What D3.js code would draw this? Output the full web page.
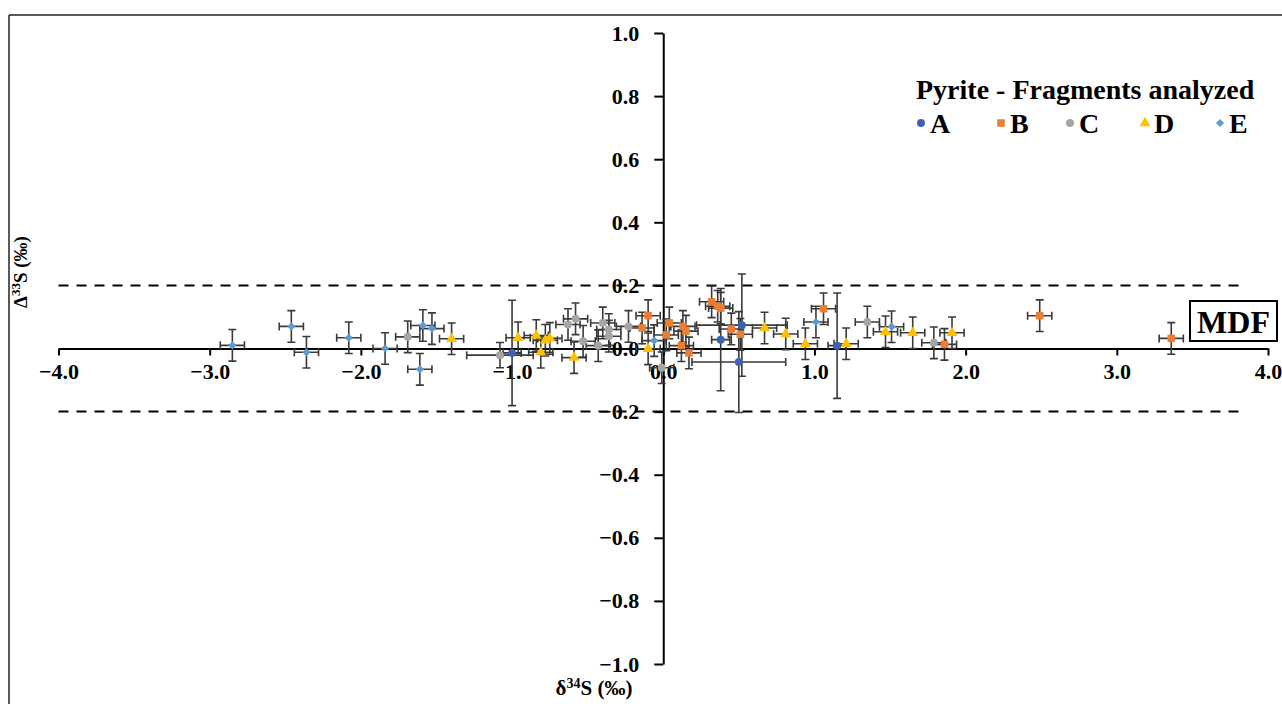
<!DOCTYPE html>
<html>
<head>
<meta charset="utf-8">
<script src="https://cdn.jsdelivr.net/npm/d3@7"></script>
<style>
  html, body { margin: 0; padding: 0; background: #fff; }
  svg { display: block; }
  text { font-family: "Liberation Serif", "Times New Roman", serif; font-weight: bold; fill: #000; }
</style>
</head>
<body>
<svg id="chart" width="1282" height="704"></svg>
<script>
// δ34S (‰) vs Δ33S (‰) for pyrite fragments, with ±1σ error bars
// Each row: [d34S, D33S, xErr, yErr]
const fragmentA = [
  [-1.00, -0.014, 0.06, 0.167],
  [0.38, 0.028, 0.06, 0.162],
  [0.52, 0.074, 0.30, 0.162],
  [0.50, -0.043, 0.31, 0.160],
  [1.15, 0.009, 0.06, 0.167]
];
const fragmentB = [
  [-0.14, 0.065, 0.08, 0.05],
  [-0.10, 0.104, 0.08, 0.05],
  [0.02, 0.043, 0.08, 0.05],
  [0.04, 0.081, 0.08, 0.05],
  [0.12, 0.009, 0.08, 0.05],
  [0.13, 0.070, 0.08, 0.05],
  [0.15, 0.055, 0.08, 0.05],
  [0.17, -0.014, 0.08, 0.05],
  [0.32, 0.148, 0.08, 0.05],
  [0.36, 0.134, 0.08, 0.05],
  [0.38, 0.128, 0.08, 0.05],
  [0.45, 0.062, 0.08, 0.05],
  [0.51, 0.045, 0.08, 0.05],
  [1.06, 0.126, 0.08, 0.05],
  [1.86, 0.013, 0.08, 0.05],
  [2.49, 0.104, 0.08, 0.05],
  [3.36, 0.032, 0.08, 0.05]
];
const fragmentC = [
  [-1.69, 0.037, 0.08, 0.05],
  [-1.08, -0.021, 0.22, 0.04],
  [-0.63, 0.076, 0.08, 0.05],
  [-0.58, 0.094, 0.08, 0.05],
  [-0.53, 0.023, 0.08, 0.05],
  [-0.43, 0.009, 0.08, 0.05],
  [-0.40, 0.081, 0.08, 0.05],
  [-0.36, 0.060, 0.08, 0.05],
  [-0.36, 0.039, 0.08, 0.05],
  [-0.23, 0.070, 0.08, 0.05],
  [-0.01, -0.061, 0.08, 0.05],
  [1.35, 0.084, 0.08, 0.05],
  [1.79, 0.018, 0.08, 0.05]
];
const fragmentD = [
  [-1.40, 0.031, 0.08, 0.05],
  [-0.96, 0.034, 0.08, 0.05],
  [-0.84, 0.041, 0.08, 0.05],
  [-0.78, 0.026, 0.08, 0.05],
  [-0.75, 0.032, 0.08, 0.05],
  [-0.81, -0.012, 0.08, 0.05],
  [-0.59, -0.029, 0.08, 0.05],
  [-0.10, -0.001, 0.08, 0.05],
  [0.67, 0.065, 0.08, 0.05],
  [0.81, 0.046, 0.08, 0.05],
  [0.94, 0.015, 0.08, 0.05],
  [1.21, 0.015, 0.08, 0.05],
  [1.47, 0.053, 0.08, 0.05],
  [1.65, 0.050, 0.08, 0.05],
  [1.91, 0.050, 0.08, 0.05]
];
const fragmentE = [
  [-2.85, 0.010, 0.08, 0.05],
  [-2.46, 0.070, 0.08, 0.05],
  [-2.36, -0.012, 0.08, 0.05],
  [-2.08, 0.034, 0.08, 0.05],
  [-1.84, 0.000, 0.08, 0.05],
  [-1.59, 0.073, 0.08, 0.05],
  [-1.53, 0.063, 0.08, 0.05],
  [-1.61, -0.066, 0.08, 0.05],
  [-0.06, 0.025, 0.08, 0.05],
  [1.01, 0.084, 0.08, 0.05],
  [1.51, 0.069, 0.08, 0.05]
];

const seriesNames = ["A", "B", "C", "D", "E"];
const seriesColors = ["#3f63b4", "#ed7d31", "#a5a5a5", "#ffc000", "#5b9bd5"];
const seriesShapes = ["circle", "square", "circle", "triangle", "diamond"];
const seriesData = [fragmentA, fragmentB, fragmentC, fragmentD, fragmentE];

const xTicks = [-4, -3, -2, -1, 0, 1, 2, 3, 4];
const yTicks = [-1.0, -0.8, -0.6, -0.4, -0.2, 0.0, 0.2, 0.4, 0.6, 0.8, 1.0];
const mdfLimits = [-0.2, 0.2];

const legendTitle = "Pyrite - Fragments analyzed";

const svg = d3.select("#chart");

// outer frame (top and left edges visible)
svg.append("line").attr("x1", 9).attr("x2", 1282).attr("y1", 15).attr("y2", 15)
  .attr("stroke", "#222").attr("stroke-width", 1.5);
svg.append("line").attr("x1", 9).attr("x2", 9).attr("y1", 15).attr("y2", 704)
  .attr("stroke", "#222").attr("stroke-width", 1.5);

const x = d3.scaleLinear().domain([-4, 4]).range([58.5, 1268]);
const y = d3.scaleLinear().domain([-1, 1]).range([664, 33]);

// MDF envelope lines
svg.selectAll("line.mdf").data(mdfLimits).join("line")
  .attr("class", "mdf")
  .attr("x1", x(-4)).attr("x2", x(3.82))
  .attr("y1", d => y(d)).attr("y2", d => y(d))
  .attr("stroke", "#000").attr("stroke-width", 2)
  .attr("stroke-dasharray", "10,8");

// x axis through zero
const xAxis = d3.axisBottom(x).tickValues(xTicks).tickFormat(d3.format(".1f"))
  .tickSizeInner(7).tickSizeOuter(0).tickPadding(8);
const gx = svg.append("g").attr("transform", `translate(0,${y(0)})`).call(xAxis);
gx.select(".domain").attr("stroke", "#000").attr("stroke-width", 2);
gx.selectAll(".tick line").attr("stroke", "#000").attr("stroke-width", 2);
gx.selectAll(".tick text").attr("font-size", 22).attr("fill", "#000")
  .attr("font-family", "'Liberation Serif', serif").attr("font-weight", "bold");

// y axis through zero
const yAxis = d3.axisLeft(y).tickValues(yTicks).tickFormat(d3.format(".1f"))
  .tickSizeInner(9).tickSizeOuter(0).tickPadding(15);
const gy = svg.append("g").attr("transform", `translate(${x(0)},0)`).call(yAxis);
gy.select(".domain").attr("stroke", "#000").attr("stroke-width", 2);
gy.selectAll(".tick line").attr("stroke", "#000").attr("stroke-width", 2);
gy.selectAll(".tick text").attr("font-size", 22).attr("fill", "#000")
  .attr("font-family", "'Liberation Serif', serif").attr("font-weight", "bold");

// error bars
const errColor = "#3a3a3a";
const cap = 4;
const errG = svg.append("g").attr("stroke", errColor).attr("stroke-width", 1.6).attr("fill", "none");
seriesData.forEach(rows => {
  rows.forEach(([dx, dy, ex, ey]) => {
    const cx = x(dx), cy = y(dy);
    const xl = x(dx - ex), xr = x(dx + ex);
    const yt = y(dy + ey), yb = y(dy - ey);
    errG.append("path").attr("d",
      `M${xl},${cy}H${xr}M${xl},${cy - cap}V${cy + cap}M${xr},${cy - cap}V${cy + cap}` +
      `M${cx},${yt}V${yb}M${cx - cap},${yt}H${cx + cap}M${cx - cap},${yb}H${cx + cap}`);
  });
});

// marker shapes; the diamond is a square turned 45°
const symbolFor = {
  circle: { gen: d3.symbol().type(d3.symbolCircle).size(50), rot: 0 },
  square: { gen: d3.symbol().type(d3.symbolSquare).size(56), rot: 0 },
  triangle: { gen: d3.symbol().type(d3.symbolTriangle).size(52), rot: 0 },
  diamond: { gen: d3.symbol().type(d3.symbolSquare).size(34), rot: 45 }
};
seriesData.forEach((rows, i) => {
  const s = symbolFor[seriesShapes[i]];
  svg.append("g").selectAll("path").data(rows).join("path")
    .attr("d", s.gen)
    .attr("transform", d => `translate(${x(d[0])},${y(d[1])}) rotate(${s.rot})`)
    .attr("fill", seriesColors[i]);
});

// MDF label box
const mdf = svg.append("g");
mdf.append("rect").attr("x", 1190).attr("y", 301).attr("width", 87).attr("height", 40)
  .attr("fill", "#fff").attr("stroke", "#000").attr("stroke-width", 2);
mdf.append("text").attr("x", 1233.5).attr("y", 333).attr("text-anchor", "middle")
  .attr("font-size", 32).text("MDF");

// legend
const legend = svg.append("g");
legend.append("text").attr("x", 916).attr("y", 99).attr("font-size", 28).text(legendTitle);
const legendX = [921, 1001, 1070, 1145, 1220];
seriesNames.forEach((name, i) => {
  const s = symbolFor[seriesShapes[i]];
  legend.append("path")
    .attr("d", s.gen)
    .attr("transform", `translate(${legendX[i]},${123}) rotate(${s.rot})`)
    .attr("fill", seriesColors[i]);
  legend.append("text").attr("x", legendX[i] + 9).attr("y", 133).attr("font-size", 28).text(name);
});

// axis titles
const yTitle = svg.append("text").attr("transform", "translate(27,272) rotate(-90)")
  .attr("text-anchor", "middle").attr("font-size", 19);
yTitle.append("tspan").text("\u0394");
yTitle.append("tspan").attr("font-size", 13).attr("dy", -7).text("33");
yTitle.append("tspan").attr("dy", 7).text("S (\u2030)");

const xTitle = svg.append("text").attr("x", 594).attr("y", 695)
  .attr("text-anchor", "middle").attr("font-size", 21);
xTitle.append("tspan").text("\u03b4");
xTitle.append("tspan").attr("font-size", 14).attr("dy", -7).text("34");
xTitle.append("tspan").attr("dy", 7).text("S (\u2030)");
</script>
</body>
</html>
